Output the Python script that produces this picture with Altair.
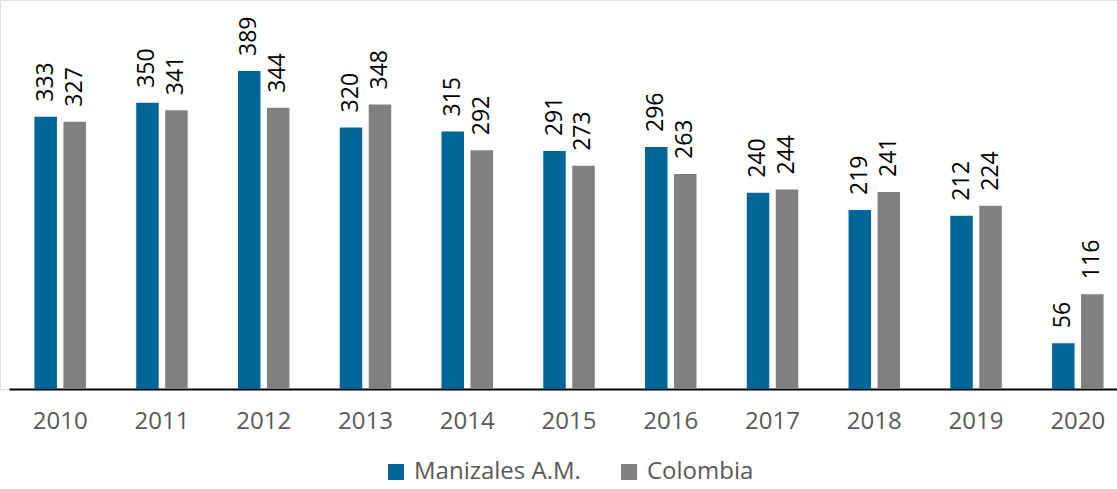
import altair as alt
import pandas as pd

# Values per year for the two series
years = [str(y) for y in range(2010, 2021)]
manizales = [333, 350, 389, 320, 315, 291, 296, 240, 219, 212, 56]
colombia = [327, 341, 344, 348, 292, 273, 263, 244, 241, 224, 116]
series = ["Manizales A.M.", "Colombia"]
colors = ["#00669A", "#808080"]

rows = []
for i, yr in enumerate(years):
    rows.append({"year": yr, "serie": series[0], "valor": manizales[i]})
    rows.append({"year": yr, "serie": series[1], "valor": colombia[i]})
df = pd.DataFrame(rows)

x_enc = alt.X(
    "year:N",
    sort=years,
    scale=alt.Scale(range=[9, 1129], paddingInner=0.494, paddingOuter=0.25),
    axis=alt.Axis(
        title=None, labelAngle=0, ticks=False, grid=False,
        domainColor="#000000", domainWidth=2,
        labelFont="Open Sans", labelFontSize=24, labelColor="#595959",
        labelPadding=20,
    ),
)
xoff_enc = alt.XOffset("serie:N", sort=series,
                       scale=alt.Scale(paddingInner=0.224, paddingOuter=0))
y_enc = alt.Y("valor:Q", scale=alt.Scale(domain=[0, 475.8], nice=False), axis=None)

base = alt.Chart(df).encode(x=x_enc, xOffset=xoff_enc, y=y_enc)

bars = base.mark_bar().encode(
    color=alt.Color(
        "serie:N",
        sort=series,
        scale=alt.Scale(domain=series, range=colors),
        legend=alt.Legend(
            title=None, orient="none", direction="horizontal",
            legendX=384, legendY=460, padding=0,
            symbolType="square", symbolSize=256, symbolStrokeWidth=0,
            symbolOpacity=1,
            labelFont="Open Sans", labelFontSize=24, labelColor="#595959",
            labelOffset=6, columnPadding=36, labelLimit=400,
        ),
    )
)

labels = base.mark_text(
    angle=270, align="left", baseline="middle", dx=15,
    font="Open Sans", fontSize=23, color="#000000",
).encode(text=alt.Text("valor:Q"))

chart = (
    alt.layer(bars, labels)
    .properties(
        width=1117, height=389,
        autosize=alt.AutoSizeParams(type="none"),
        padding={"left": 0, "top": 0, "right": 0, "bottom": 100},
    )
    .configure_view(stroke=None)
    .configure(background="white")
)

chart.save("out.html", embed_options={"renderer": "svg", "actions": False})
